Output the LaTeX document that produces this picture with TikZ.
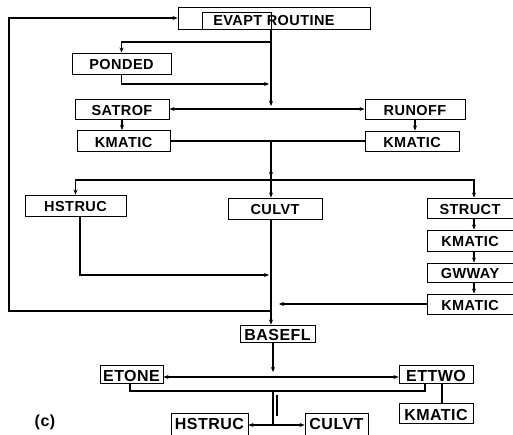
\documentclass[tikz,border=0pt]{standalone}
\usepackage{fontspec}
\setmainfont{Liberation Sans}[LetterSpace=3]
\usetikzlibrary{arrows.meta}
\begin{document}
\begin{tikzpicture}[x=1pt,y=-1pt,
  box/.style={draw,line width=0.9pt,inner sep=0pt,text height=12.4pt,text depth=0pt,
    font=\fontsize{14.5}{14.5}\selectfont\bfseries},
  bigbox/.style={box,text height=14.5pt,font=\fontsize{16}{16}\selectfont\bfseries},
  ln/.style={line width=1.3pt},
  arr/.style={ln,-{Stealth[length=5pt,width=4pt]}},
  arrs/.style={ln,{Stealth[length=5pt,width=4pt]}-{Stealth[length=5pt,width=4pt]}}]
\useasboundingbox (0,0) rectangle (513,435);

% routine header and the first branch
\node[box,text height=14.4pt,minimum width=192pt,minimum height=22pt] (evapt) at (274,18) {EVAPT ROUTINE};
\node[draw,line width=0.9pt,minimum width=69pt,minimum height=17pt,inner sep=0pt] (evin) at (236.5,20.5) {};
\node[box,minimum width=99pt,minimum height=21pt] (ponded) at (121.5,63.5) {PONDED};
\node[box,minimum width=94pt,minimum height=20pt] (satrof) at (122,109) {SATROF};
\node[box,minimum width=100pt,minimum height=20pt] (runoff) at (415,109) {RUNOFF};
\node[box,minimum width=93pt,minimum height=21pt] (kmL) at (123.5,141) {KMATIC};
\node[box,minimum width=94pt,minimum height=20pt] (kmR) at (412,141) {KMATIC};

% second tier
\node[box,minimum width=101pt,minimum height=21pt] (hstruc) at (75.5,205.5) {HSTRUC};
\node[box,minimum width=94pt,minimum height=21pt] (culvt) at (275,208.5) {CULVT};
\node[box,minimum width=86pt,minimum height=20pt] (struct) at (470,208) {STRUCT};
\node[box,minimum width=86pt,minimum height=21pt] (kmS1) at (470,240.5) {KMATIC};
\node[box,minimum width=86pt,minimum height=19pt] (gwway) at (470,272.5) {GWWAY};
\node[box,minimum width=86pt,minimum height=20pt] (kmS2) at (470,304) {KMATIC};

% base flow part
\node[bigbox,minimum width=75pt,minimum height=17pt] (basefl) at (277.5,333.5) {BASEFL};
\node[bigbox,minimum width=63pt,minimum height=18pt] (etone) at (131.5,374) {ETONE};
\node[bigbox,minimum width=74pt,minimum height=18pt] (ettwo) at (436,374) {ETTWO};
\node[bigbox,minimum width=74pt,minimum height=20pt] (kmE) at (436,413) {KMATIC};
\node[bigbox,text height=11.5pt,minimum width=77pt,minimum height=22pt] (hstruc2) at (209.5,424) {HSTRUC};
\node[bigbox,text height=11.5pt,minimum width=63pt,minimum height=22pt] (culvt2) at (336.5,424) {CULVT};
\node[font=\fontsize{16}{16}\selectfont\bfseries] (lbl) at (45,422) {(c)};

% spine points
\coordinate (b1) at (271,42);
\coordinate (p1) at (269,84);
\coordinate (s1) at (271,106);
\coordinate (j2) at (271,141);
\coordinate (s2) at (271,177);
\coordinate (br) at (271,180);
\coordinate (sx) at (474,0);
\coordinate (h1) at (80,216);
\coordinate (h2) at (269,275);
\coordinate (k1) at (279,304);
\coordinate (c1) at (271,311);
\coordinate (c2) at (9,311);
\coordinate (bf1) at (273,342);
\coordinate (bf2) at (273,372);
\coordinate (e1) at (0,377);
\coordinate (bl) at (130,391);
\coordinate (bR) at (425,391);
\coordinate (v1) at (273,391);
\coordinate (v2) at (273,425);
\coordinate (w1) at (277,395);
\coordinate (w2) at (277,416);
\coordinate (kx) at (442,0);

% upper connectors
\draw[arr] (b1 |- evin.south) -- (s1);
\draw[arr] (b1) -| (ponded.north);
\draw[arr] (ponded.south) |- (p1);
\draw[arrs] (satrof.east) -- (runoff.west);
\draw[arr] (satrof.south) -- (satrof.south |- kmL.north);
\draw[arr] (runoff.south) -- (runoff.south |- kmR.north);
\draw[ln] (kmL.east) -- (kmR.west);
\draw[ln] (j2) -- (br);
\draw[arr] (j2) -- (s2);
\draw[arr] (br) -| (hstruc.north);
\draw[arr] (br) -| (sx |- struct.north);
\draw[arr] (br) -- (br |- culvt.north);

% structure chain
\draw[arr] (sx |- struct.south) -- (sx |- kmS1.north);
\draw[arr] (sx |- kmS1.south) -- (sx |- gwway.north);
\draw[arr] (sx |- gwway.south) -- (sx |- kmS2.north);
\draw[arr] (kmS2.west) -- (k1);

% returns to the spine and the loop back
\draw[arr] (h1) |- (h2);
\draw[ln] (br |- culvt.south) -- (c1);
\draw[arr] (c1) -- (br |- basefl.north);
\draw[arr] (c1) -- (c2) |- (evapt.west);

% base flow connectors
\draw[arr] (bf1) -- (bf2);
\draw[arrs] (etone.east |- e1) -- (ettwo.west |- e1);
\draw[ln] (bl |- etone.south) -- (bl) -- (bR) -- (bR |- ettwo.south);
\draw[ln] (kx |- ettwo.south) -- (kx |- kmE.north);
\draw[ln] (v1) -- (v2);
\draw[ln] (w1) -- (w2);
\draw[arrs] (hstruc2.east |- v2) -- (culvt2.west |- v2);
\end{tikzpicture}
\end{document}
